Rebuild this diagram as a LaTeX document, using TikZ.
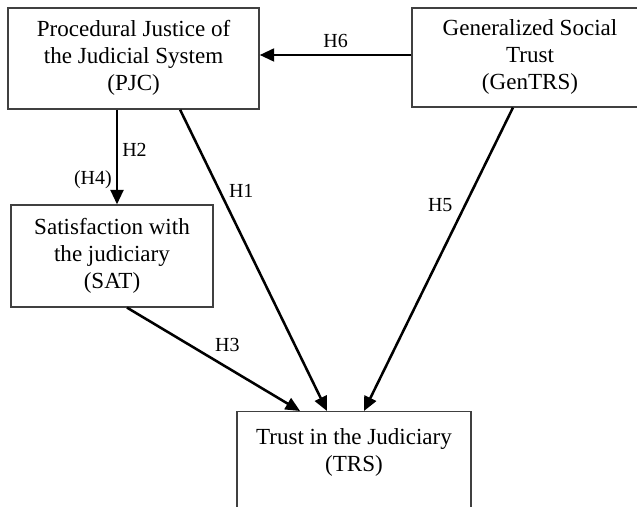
\documentclass[tikz,border=0pt]{standalone}
\usepackage{fontspec}
\setmainfont{Liberation Serif}
\usetikzlibrary{arrows.meta}

\begin{document}
\begin{tikzpicture}
        \tikzstyle{box}=[rectangle, draw=black!75, line width=0.9pt, inner sep=2pt, font=\fontsize{16.4}{19.2}\selectfont, text=black]
        \tikzstyle{lab}=[inner sep=0.1cm, font=\fontsize{14.2}{17}\selectfont, text=black]
        \tikzstyle{edge}=[black, line width=1.8pt, -{Triangle[length=0.36cm, width=0.32cm]}]

        \useasboundingbox (0,0) rectangle (15.925,12.675);

        \node[box, minimum width=6.275cm, minimum height=2.525cm] (pjc) at (3.34,11.21)
            {\begin{tabular}{c} Procedural Justice of \\ the Judicial System \\ (PJC) \end{tabular}};
        \node[box, minimum width=5.9cm, minimum height=2.475cm] (gen) at (13.25,11.24)
            {\begin{tabular}{c} Generalized Social \\ Trust \\ (GenTRS) \end{tabular}};
        \node[box, minimum width=5.05cm, minimum height=2.55cm] (sat) at (2.8,6.275)
            {\begin{tabular}{c} Satisfaction with \\ the judiciary \\ (SAT) \end{tabular}};
        \node[box, minimum width=5.85cm, anchor=north, inner ysep=0.35cm, text depth=2.5cm] (trs) at (8.85,2.4)
            {\begin{tabular}{c} Trust in the Judiciary \\ (TRS) \end{tabular}};

        \draw[edge] ([yshift=0.06cm]gen.west) -- ([yshift=0.06cm]gen.west -| pjc.east)
            node[lab, midway, above=0.06cm] {H6};
        \draw[edge] ([xshift=0.125cm]sat.north |- pjc.south) -- ([xshift=0.125cm]sat.north)
            node[lab, pos=0.42, right=0cm] {H2}
            node[lab, pos=0.74, left=0cm] {(H4)};
        \draw[edge] ([xshift=1.1625cm]pjc.south) -- ([xshift=-0.675cm]trs.north)
            node[lab, pos=0.27, right=0.1cm] {H1};
        \draw[edge] ([xshift=0.375cm]sat.south) -- ([xshift=-1.35cm]trs.north)
            node[lab, pos=0.58, above=0.26cm] {H3};
        \draw[edge] ([xshift=-0.425cm]gen.south) -- ([xshift=0.25cm]trs.north)
            node[lab, pos=0.32, left=0.19cm] {H5};
    \end{tikzpicture}
\end{document}
